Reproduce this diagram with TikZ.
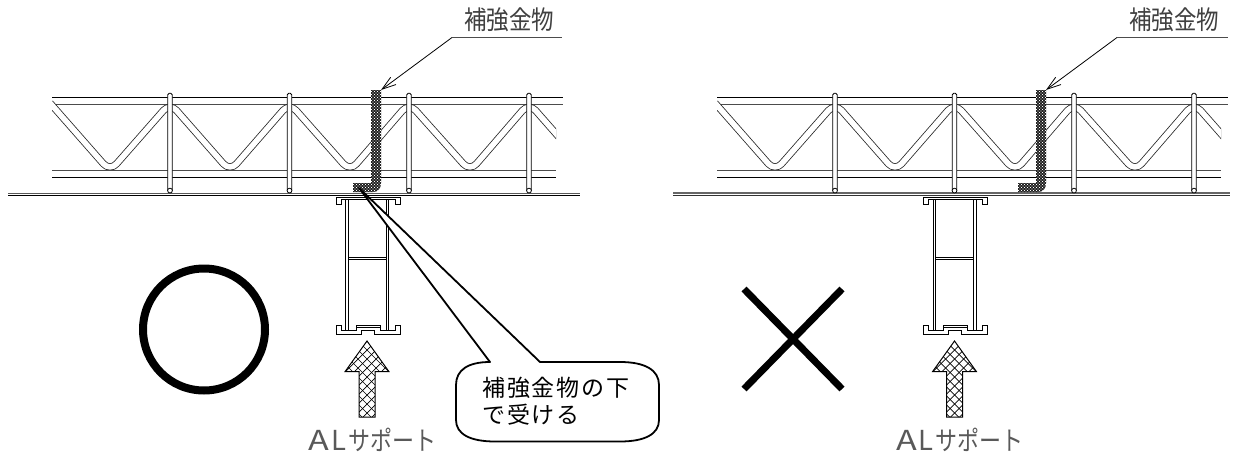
\documentclass[tikz,border=0pt]{standalone}
\usepackage{fontspec}
\usetikzlibrary{arrows.meta}
\newfontfamily\jpa{Noto Sans CJK JP}
\newfontfamily\jpb[LetterSpace=8]{Noto Sans CJK JP}
\newcommand{\alsup}{\scalebox{1.55}[1.25]{A}\hspace{2pt}\scalebox{1.25}[1.25]{L}\hspace{2pt}\scalebox{1}[1.2]{サポート}}
\tikzset{
  thin line/.style={line width=0.8pt,draw=black},
  bar/.style={line width=0.8pt,draw=black,fill=white},
  leaderlabel/.style={font=\jpa\fontsize{22.5}{24}\selectfont,text=black!75,inner sep=0pt},
  suplabel/.style={font=\jpa\fontsize{22}{24}\selectfont,text=black!65,inner sep=0pt},
  calloutlabel/.style={font=\jpb\fontsize{23}{27}\selectfont,align=left,inner sep=0pt},
  zig/.style={line width=0.8pt,double=white,double distance=5.6pt,draw=black!85,rounded corners=10pt,line join=round},
  truss/.pic={
    \draw[thin line] (52,97.5) -- (563,97.5);
    \draw[line width=0.9pt,draw=black!70] (52,104) -- (563,104);
    \begin{scope}
      \clip (52,90) rectangle (556,180);
      \draw[zig] (50,103) -- (110,171.3) -- (170,103) -- (230,171.3) -- (289.5,103) -- (350,171.3) -- (409,103) -- (470,171.3) -- (529,103) -- (589,171.3);
    \end{scope}
    \draw[line width=0.9pt,draw=black!70] (52,170.5) -- (556,170.5);
    \draw[thin line] (52,177) -- (556,177);
    \foreach \vx in {170,289.5,409,529}{
      \draw[bar,rounded corners=1.5pt] (\vx-2.3,190) -- (\vx-2.3,93.3) -- (\vx+2.3,93.3) -- (\vx+2.3,190);
      \draw[bar] (\vx,190.6) circle[radius=2.4];
    }
  },
  bracket/.pic={
    \begin{scope}
      \clip (371,90) -- (381,90) -- (381,183) .. controls (381,188.5) and (378,192) .. (373,192) -- (353,192) -- (353,183) -- (371,183) -- cycle;
      \fill[black!90] (350,88) rectangle (384,194);
      \foreach \dy in {0,...,35}{
        \foreach \dx in {0,...,10}{
          \fill[white] (352+\dx*3,90+\dy*3) circle[radius=0.7];
          \fill[white] (353.5+\dx*3,91.5+\dy*3) circle[radius=0.7];
        }
      }
    \end{scope}
  },
  support/.pic={
    \draw[bar] (336,197) -- (400,197) -- (400,204) -- (395,204) -- (395,199.3) -- (341,199.3) -- (341,204) -- (336,204) -- cycle;
    \draw[thin line,fill=white] (345.8,199.3) rectangle (348.2,330);
    \draw[thin line,fill=white] (386,199.3) rectangle (388.4,330);
    \draw[thin line,fill=white] (348.2,257.2) rectangle (386,259.6);
    \draw[bar] (336,325) -- (341,325) -- (341,330) -- (356,330) -- (356,325) -- (380,325) -- (380,330) -- (395,330) -- (395,325) -- (400,325) -- (400,334) -- (374,334) -- (374,330) -- (361,330) -- (361,334) -- (336,334) -- cycle;
    \draw[thin line] (356,327.2) -- (380,327.2);
    \draw[thin line] (345.8,325) -- (345.8,330) (348.2,325) -- (348.2,330) (386,325) -- (386,330) (388.4,325) -- (388.4,330);
  },
  hatcharrow/.pic={
    \begin{scope}
      \clip (367,341) -- (389,371.7) -- (375,371.7) -- (375,417) -- (359,417) -- (359,371.7) -- (345,371.7) -- cycle;
      \foreach \h in {-9,...,9}{
        \draw[line width=0.7pt] (320,330+\h*9) -- (420,430+\h*9);
        \draw[line width=0.7pt] (420,330+\h*9+30) -- (320,430+\h*9+30);
      }
    \end{scope}
    \draw[line width=1pt,line join=miter] (367,341) -- (389,371.7) -- (375,371.7) -- (375,417) -- (359,417) -- (359,371.7) -- (345,371.7) -- cycle;
  }
}
\begin{document}
\begin{tikzpicture}[x=1pt,y=-1pt]
\useasboundingbox (0,0) rectangle (1252,452);
% floors
\draw[line width=0.9pt,draw=black!65] (8,193) -- (580,193);
\draw[line width=1pt] (8,195.3) -- (580,195.3);
\draw[line width=1.2pt,draw=black!60] (673,193) -- (1230,193);
\draw[line width=0.9pt,draw=black!80] (673,195.3) -- (1230,195.3);
% left assembly
\pic at (0,0) {truss};
\pic at (0,0) {support};
\pic at (0,0) {bracket};
\pic at (0,0) {hatcharrow};
% right assembly
\pic at (665,0) {truss};
\pic at (587.5,0) {support};
\pic at (665,0) {bracket};
\pic at (587.5,0) {hatcharrow};
% labels
\node[leaderlabel] (lblA) at (509,20) {\scalebox{1}[1.15]{補強金物}};
\node[leaderlabel] (lblB) at (1174,20) {\scalebox{1}[1.15]{補強金物}};
\node[suplabel] (supA) at (372.5,439.5) {\alsup};
\node[suplabel] (supB) at (960,439.5) {\alsup};
% leaders
\coordinate (ulA0) at (562,37.5);
\coordinate (ulA1) at (452,37.5);
\coordinate (tipA) at (381,90);
\coordinate (ulB0) at (1228,37.5);
\coordinate (ulB1) at (1117,37.5);
\coordinate (tipB) at (1046,90);
\draw[line width=0.8pt,{Straight Barb[length=14pt,width=9pt]}-] (tipA) -- (ulA1);
\draw[line width=1pt,draw=black!70] (ulA1) -- (ulA0);
\draw[line width=0.8pt,{Straight Barb[length=14pt,width=9pt]}-] (tipB) -- (ulB1);
\draw[line width=1pt,draw=black!70] (ulB1) -- (ulB0);
% callout
\coordinate (apex) at (359,188);
\draw[line width=1.8pt,fill=white,line join=round]
  (490,362) -- (apex) -- (540,362) -- (620,362)
  .. controls (645,362) and (659,370) .. (659,385)
  -- (659,420)
  .. controls (659,434) and (645,441.5) .. (620,441.5)
  -- (495,441.5)
  .. controls (470,441.5) and (456,434) .. (456,420)
  -- (456,385)
  .. controls (456,370) and (468,362) .. (490,362) -- cycle;
\node[calloutlabel,anchor=west] (call) at (482,401) {補強金物の下\\で受ける};
% marks
\draw[line width=8pt] (204,329.5) circle[radius=61];
\coordinate (xa) at (744,289);
\coordinate (xb) at (842,389);
\coordinate (xc) at (842,289);
\coordinate (xd) at (744,389);
\draw[line width=7pt] (xa) -- (xb);
\draw[line width=7pt] (xc) -- (xd);
\end{tikzpicture}
\end{document}
